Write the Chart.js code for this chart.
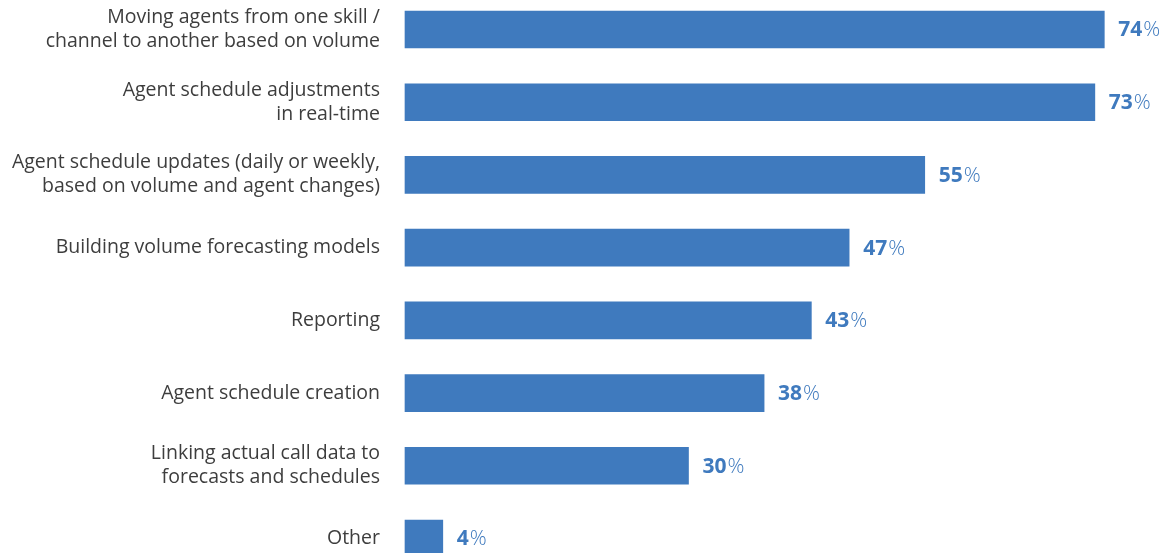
<!DOCTYPE html>
<html>
<head>
<meta charset="utf-8">
<script src="https://cdn.jsdelivr.net/npm/chart.js@4/dist/chart.umd.min.js"></script>
<style>
  html, body { margin: 0; padding: 0; background: #fff; }
  #wrap { width: 1174px; height: 553px; position: relative; }
</style>
</head>
<body>
<div id="wrap"><canvas id="chart"></canvas></div>
<script>
  // ── Data ────────────────────────────────────────────────────────────────
  const CATEGORIES = [
    ['Moving agents from one skill /', 'channel to another based on volume'],
    ['Agent schedule adjustments', 'in real-time'],
    ['Agent schedule updates (daily or weekly,', 'based on volume and agent changes)'],
    'Building volume forecasting models',
    'Reporting',
    'Agent schedule creation',
    ['Linking actual call data to', 'forecasts and schedules'],
    'Other',
  ];
  const VALUES = [74, 73, 55, 47, 43, 38, 30, 4];

  // ── Style ───────────────────────────────────────────────────────────────
  const BAR_BLUE  = '#3f7abe';
  const TEXT_GRAY = '#3d3d3d';
  const FONT      = '"Open Sans", Lato, sans-serif';

  // value labels: bold number + light "%"
  const valueLabels = {
    id: 'valueLabels',
    afterDatasetsDraw(chart) {
      const ctx = chart.ctx;
      const meta = chart.getDatasetMeta(0);
      ctx.save();
      ctx.fillStyle = BAR_BLUE;
      ctx.textBaseline = 'middle';
      ctx.textAlign = 'left';
      meta.data.forEach((bar, i) => {
        const num = String(VALUES[i]);
        let x = bar.x + 14;
        const y = bar.y + 1;
        ctx.font = `bold 21px ${FONT}`;
        ctx.fillText(num, x, y);
        x += ctx.measureText(num).width + 1;
        ctx.font = `300 21px ${FONT}`;
        ctx.fillText('%', x, y);
      });
      ctx.restore();
    },
  };

  new Chart(document.getElementById('chart'), {
    type: 'bar',
    data: {
      labels: CATEGORIES,
      datasets: [{
        data: VALUES,
        backgroundColor: BAR_BLUE,
        barThickness: 37,
        clip: false,
      }],
    },
    options: {
      indexAxis: 'y',
      responsive: true,
      maintainAspectRatio: false,
      animation: false,
      layout: { padding: { top: 29.5, bottom: 14.5, left: 0, right: 13 } },
      plugins: {
        legend: { display: false },
        tooltip: { enabled: false },
      },
      scales: {
        x: {
          display: false,
          min: 0,
          max: 80,
        },
        y: {
          offset: false,
          grid: { display: false, drawTicks: false },
          border: { display: false },
          afterFit: scale => {
            scale.width = 405;
            scale.paddingTop = 0;
            scale.paddingBottom = 0;
          },
          ticks: {
            padding: 25,
            color: TEXT_GRAY,
            font: { family: FONT, size: 19.5, lineHeight: 1.23 },
            crossAlign: 'near',
          },
        },
      },
    },
    plugins: [valueLabels],
  });
</script>
</body>
</html>
